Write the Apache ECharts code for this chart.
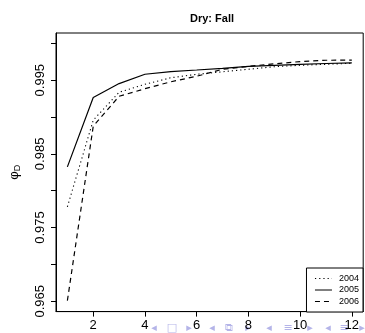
<!DOCTYPE html>
<html>
<head>
<meta charset="utf-8">
<script src="https://cdn.jsdelivr.net/npm/echarts@6/dist/echarts.min.js"></script>
<style>
html,body{margin:0;padding:0;background:#fff;}
#chart{width:365px;height:333px;}
</style>
</head>
<body>
<div id="chart"></div>
<script>
// ---- data ----
const months = [1, 2, 3, 4, 5, 6, 7, 8, 9, 10, 11, 12];
const y2004 = [0.97782, 0.98957, 0.99336, 0.99444, 0.99533, 0.99580, 0.99614, 0.99648, 0.99682, 0.99702, 0.99715, 0.99729];
const y2005 = [0.98324, 0.99264, 0.99454, 0.99580, 0.99617, 0.99638, 0.99661, 0.99688, 0.99702, 0.99715, 0.99726, 0.99736];
const y2006 = [0.96508, 0.98875, 0.99282, 0.99384, 0.99478, 0.99553, 0.99648, 0.99688, 0.99722, 0.99752, 0.99770, 0.99772];
const seriesNames = ['2004', '2005', '2006'];
const xTicks = [2, 4, 6, 8, 10, 12];
const yTicks = [0.965, 0.970, 0.975, 0.980, 0.985, 0.990, 0.995, 1.000];
const yTickLabels = [0.965, 0.975, 0.985, 0.995];
const titleText = 'Dry: Fall';
const navGlyphs = ['◂', '□', '▸', '◂', '⧉', '▸', '◂', '≡', '▸', '◂', '≡', '▸'];
const navX = [154, 172, 189, 212, 229, 248, 269, 288, 310, 328, 344, 362];

const pairs = arr => months.map((m, i) => [m, arr[i]]);
const font = 'Liberation Sans, Arial, Helvetica, sans-serif';

const chart = echarts.init(document.getElementById('chart'), null, {renderer: 'canvas'});
const lineBase = {type: 'line', symbol: 'none', smooth: false, silent: true, animation: false};

chart.setOption({
  animation: false,
  backgroundColor: '#ffffff',
  title: {
    text: titleText,
    left: 207, top: 8, textAlign: 'center',
    textStyle: {fontFamily: font, fontSize: 11, fontWeight: 'bold', color: '#000'}
  },
  grid: {
    left: 52.4, right: 1.8, top: 33, bottom: 21.4,
    show: true, borderColor: '#000', borderWidth: 1, containLabel: false
  },
  xAxis: {
    type: 'value', min: 0.56, max: 12.44,
    axisLine: {show: true, onZero: false, lineStyle: {color: '#000', width: 1}},
    axisTick: {show: true, inside: false, length: 5, customValues: xTicks, lineStyle: {color: '#000'}},
    axisLabel: {show: true, customValues: xTicks, margin: 7, color: '#000', fontFamily: font, fontSize: 13,
      formatter: v => String(v)},
    splitLine: {show: false}
  },
  yAxis: {
    type: 'value', min: 0.9636, max: 1.0014,
    name: '{a|φ}{b|D}', nameLocation: 'middle', nameGap: 34, nameRotate: 90,
    nameTextStyle: {rich: {
      a: {fontFamily: font, fontSize: 13, color: '#000'},
      b: {fontFamily: font, fontSize: 9, color: '#000', padding: [6, 0, 0, 0]}
    }},
    axisLine: {show: true, onZero: false, lineStyle: {color: '#000', width: 1}},
    axisTick: {show: true, inside: false, length: 5, customValues: yTicks, lineStyle: {color: '#000'}},
    axisLabel: {show: true, customValues: yTickLabels, rotate: 90, margin: 9, color: '#000',
      fontFamily: font, fontSize: 13, formatter: v => v.toFixed(3)},
    splitLine: {show: false}
  },
  legend: {
    data: seriesNames,
    orient: 'vertical', right: 2, bottom: 21,
    backgroundColor: '#fff', borderColor: '#000', borderWidth: 1, borderRadius: 0,
    padding: [6, 4, 6, 8], itemGap: 2.5, itemWidth: 17, itemHeight: 8,
    itemStyle: {opacity: 0},
    lineStyle: {width: 1},
    textStyle: {fontFamily: font, fontSize: 9, color: '#000', padding: [0, 0, 0, 2]},
    selectedMode: false
  },
  series: [
    Object.assign({}, lineBase, {name: seriesNames[0], data: pairs(y2004),
      lineStyle: {color: '#000', width: 1.1, type: [1.2, 3]}, itemStyle: {color: '#000'}}),
    Object.assign({}, lineBase, {name: seriesNames[1], data: pairs(y2005),
      lineStyle: {color: '#000', width: 1.2, type: 'solid'}, itemStyle: {color: '#000'}}),
    Object.assign({}, lineBase, {name: seriesNames[2], data: pairs(y2006),
      lineStyle: {color: '#000', width: 1.2, type: [5, 4]}, itemStyle: {color: '#000'}})
  ],
  graphic: navGlyphs.map((g, i) => ({
    type: 'text', x: navX[i], y: 328, silent: true, z: 0,
    style: {text: g, fill: '#b4b4e8', fontSize: 11, fontFamily: 'DejaVu Sans',
      align: 'center', verticalAlign: 'middle'}
  }))
});
</script>
</body>
</html>
